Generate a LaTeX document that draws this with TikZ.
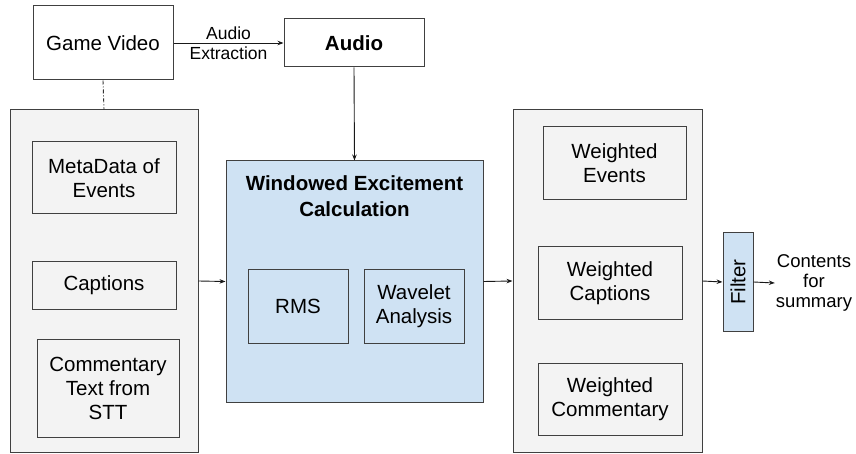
\documentclass[tikz,border=0pt]{standalone}
\usepackage{fontspec}
\setmainfont{Liberation Sans}
\usetikzlibrary{arrows.meta}
\definecolor{panelfill}{HTML}{F3F3F3}
\definecolor{bluefill}{HTML}{CFE2F3}
\definecolor{edge}{HTML}{404040}
\tikzset{
  box/.style={draw=edge, line width=1pt, inner sep=0pt, align=center,
    font=\fontsize{20.5}{24}\selectfont},
  panel/.style={box, fill=panelfill},
  bluebox/.style={box, fill=bluefill},
  arr/.style={-{Stealth[length=6pt,width=4.5pt]}, line width=0.9pt, draw=black!90},
}
\begin{document}
\begin{tikzpicture}[x=1pt,y=-1pt]
\useasboundingbox (0,0) rectangle (856,454);
% top row
\node[box, minimum width=140pt, minimum height=74pt] (gv) at (103,43) {Game Video};
\node[box, minimum width=140pt, minimum height=48pt, font=\fontsize{20.5}{24}\selectfont\bfseries] (audio) at (354,43) {Audio};
% left panel
\node[panel, minimum width=188pt, minimum height=342pt] (lp) at (104,281) {};
\node[box, minimum width=144pt, minimum height=72pt] (meta) at (104,178) {MetaData of\\Events};
\node[box, minimum width=144pt, minimum height=47pt] (capt) at (104,285.5) {Captions};
\node[box, minimum width=142pt, minimum height=98pt] (comm) at (108,388) {Commentary\\Text from\\STT};
% windowed excitement
\node[bluebox, minimum width=257pt, minimum height=241pt] (win) at (354.5,281.5) {};
\node[align=center, inner sep=0pt, font=\fontsize{20.5}{26}\selectfont\bfseries] (wtitle) at (354.5,196) {Windowed Excitement\\Calculation};
\node[bluebox, minimum width=100pt, minimum height=74pt] (rms) at (298,306) {RMS};
\node[bluebox, minimum width=100pt, minimum height=74pt] (wav) at (414,306) {Wavelet\\Analysis};
% right panel
\node[panel, minimum width=189pt, minimum height=342pt] (rp) at (607.5,281) {};
\node[box, minimum width=143pt, minimum height=73pt] (wev) at (614.5,163.5) {Weighted\\Events};
\node[box, minimum width=144pt, minimum height=72pt] (wcap) at (610,283) {Weighted\\Captions};
\node[box, minimum width=144pt, minimum height=72pt] (wcom) at (610,399) {Weighted\\Commentary};
% filter
\node[bluebox, minimum width=30pt, minimum height=98pt] (filt) at (738,282) {};
\node[rotate=90, inner sep=0pt, font=\fontsize{20.5}{24}\selectfont] (filttext) at (filt.center) {Filter};
\node[align=center, inner sep=1pt, font=\fontsize{18.5}{20}\selectfont] (out) at (814,283) {Contents\\for\\summary};
% connectors
\draw[arr] (gv.east) -- node[midway, align=center, inner sep=0pt, font=\fontsize{17.5}{20}\selectfont] (lbl) {Audio\\Extraction} (audio.west);
\draw[arr] (audio.south) -- (win.north);
\draw[line width=0.9pt, draw=black!80, dash pattern=on 4pt off 2pt on 1pt off 2pt] (gv.south) -- (lp.north);
\draw[arr] (lp.east) -- (win.west);
\draw[arr] (win.east) -- (rp.west);
\draw[arr] (rp.east) -- (filt.west);
\draw[arr] (filt.east) -- (out.west);
\end{tikzpicture}
\end{document}
